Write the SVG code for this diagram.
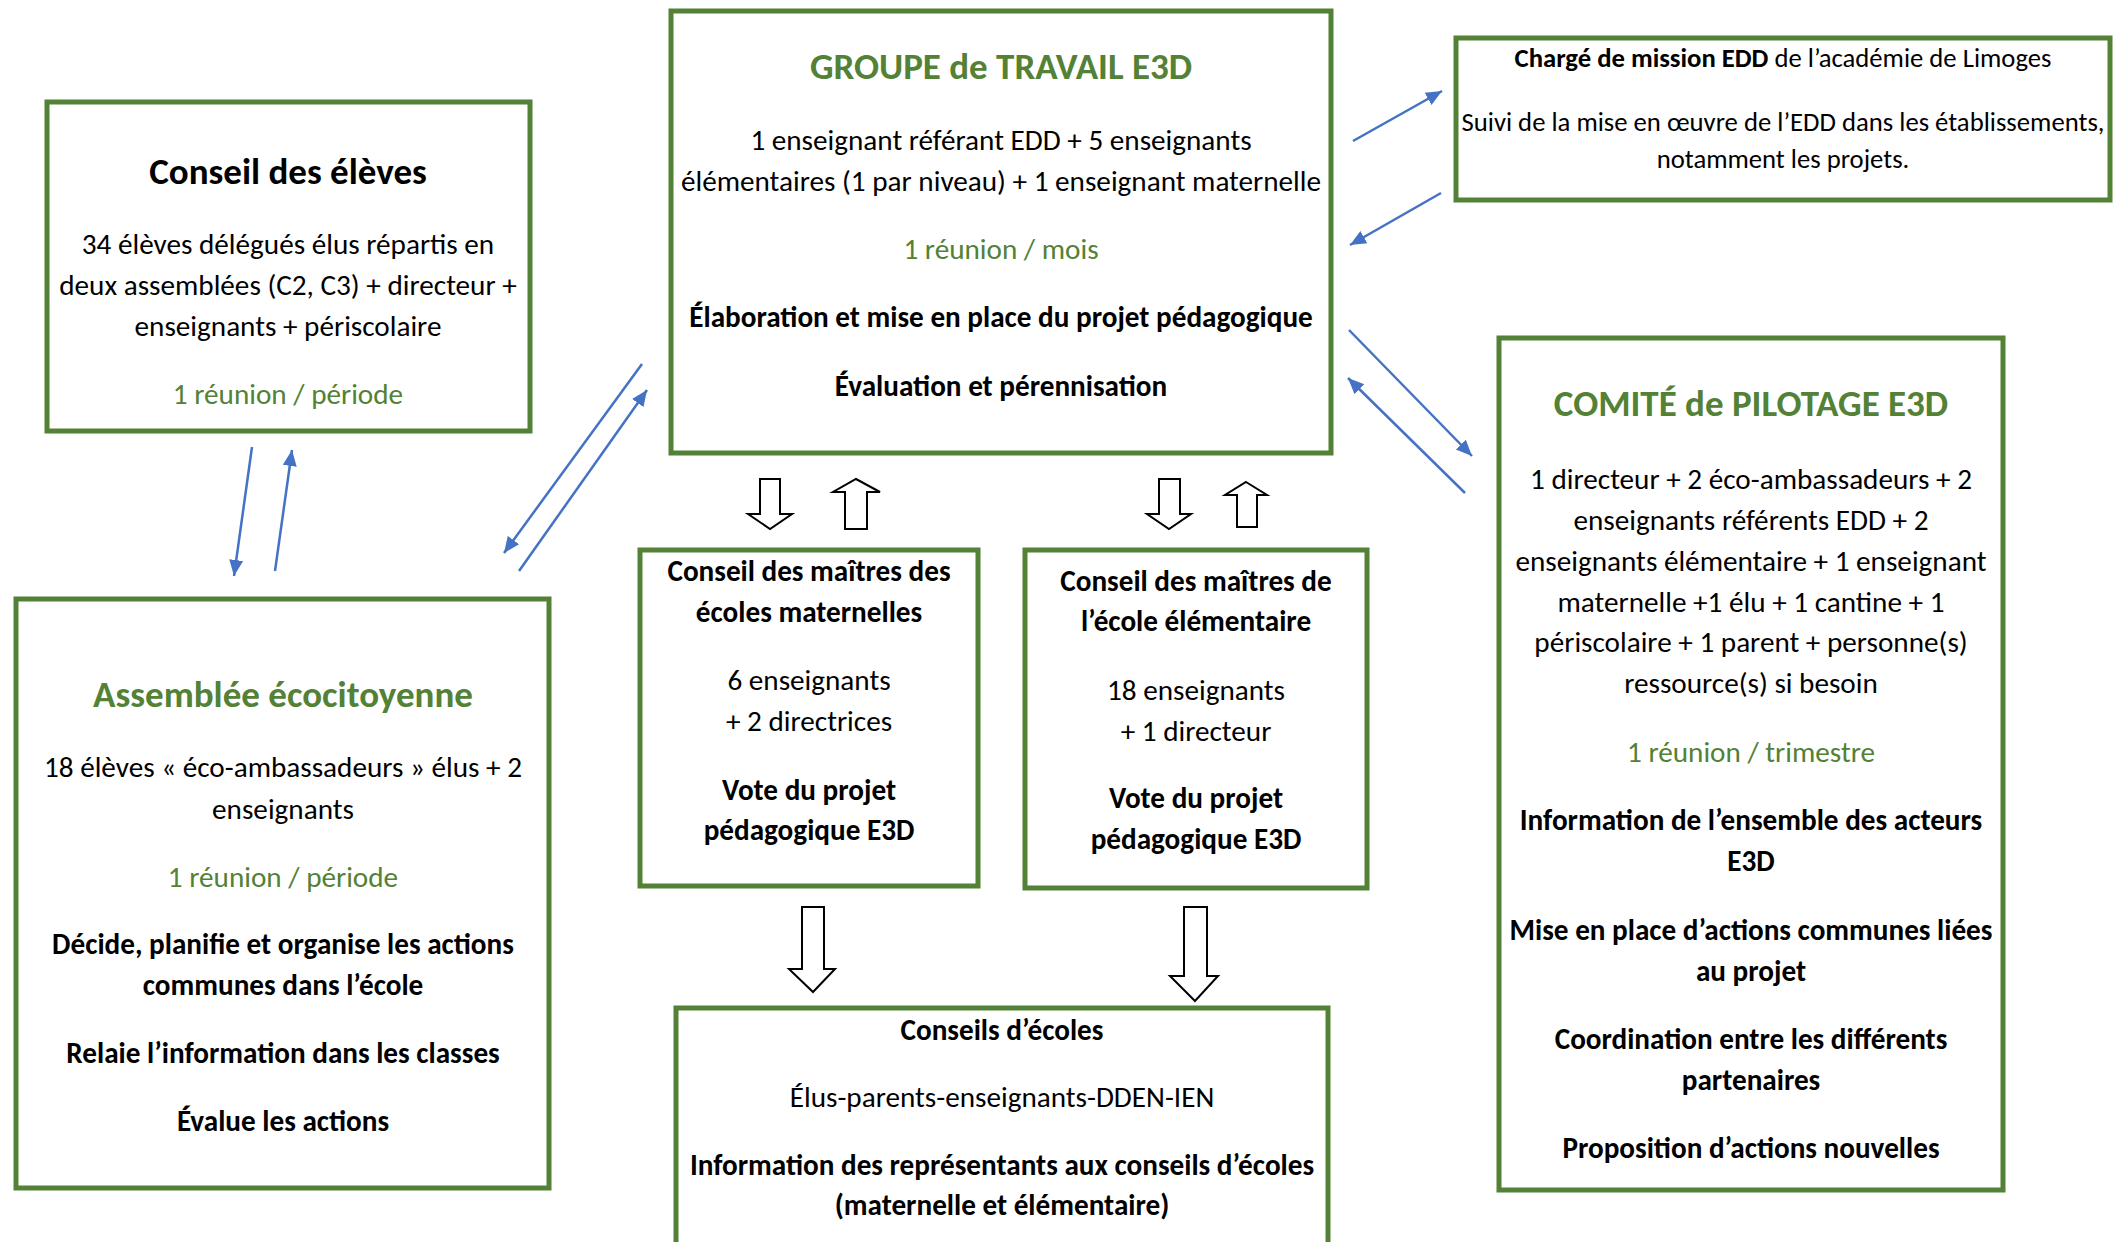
<svg xmlns="http://www.w3.org/2000/svg" width="2119" height="1242" viewBox="0 0 2119 1242">
<defs>
<style>
text{font-family:Carlito,Lato,"Liberation Sans",sans-serif;text-anchor:middle;fill:#000}
.box{fill:#fff;stroke:#538135;stroke-width:5}
.t{font-size:37px;font-weight:bold}
.tg{font-size:37px;font-weight:bold;fill:#538135}
.b{font-size:29.2px}
.bb{font-size:29.2px;font-weight:bold}
.g{font-size:29.2px;fill:#538135}
.s{font-size:26.7px}
.blk{fill:#fff;stroke:#000;stroke-width:2;stroke-linejoin:miter}
.con{stroke:#4472C4;stroke-width:2.5;fill:none;marker-end:url(#ah)}
</style>
<marker id="ah" markerUnits="userSpaceOnUse" markerWidth="18" markerHeight="16" refX="16" refY="7" orient="auto" viewBox="0 0 18 14">
<path d="M0,0 L16,7 L0,14 z" fill="#4472C4"/>
</marker>
</defs>
<rect width="2119" height="1242" fill="#fff"/>

<g id="conseil-eleves">
<rect class="box" x="47" y="102" width="483" height="329"/>
<text class="t" x="288" y="184">Conseil des élèves</text>
<text class="b" x="288" y="254">34 élèves délégués élus répartis en</text>
<text class="b" x="288" y="295">deux assemblées (C2, C3) + directeur +</text>
<text class="b" x="288" y="336">enseignants + périscolaire</text>
<text class="g" x="288" y="404">1 réunion / période</text>
</g>

<g id="groupe-travail">
<rect class="box" x="671" y="11" width="660" height="442"/>
<text class="tg" x="1001" y="79">GROUPE de TRAVAIL E3D</text>
<text class="b" x="1001" y="150">1 enseignant référant EDD + 5 enseignants</text>
<text class="b" x="1001" y="191">élémentaires (1 par niveau) + 1 enseignant maternelle</text>
<text class="g" x="1001" y="259">1 réunion / mois</text>
<text class="bb" x="1001" y="327">Élaboration et mise en place du projet pédagogique</text>
<text class="bb" x="1001" y="396">Évaluation et pérennisation</text>
</g>

<g id="charge-mission">
<rect class="box" x="1456" y="38" width="654" height="162"/>
<text class="s" x="1783" y="67"><tspan font-weight="bold">Chargé de mission EDD</tspan> de l’académie de Limoges</text>
<text class="s" x="1783" y="131">Suivi de la mise en œuvre de l’EDD dans les établissements,</text>
<text class="s" x="1783" y="168">notamment les projets.</text>
</g>

<g id="comite-pilotage">
<rect class="box" x="1499" y="338" width="504" height="852"/>
<text class="tg" x="1751" y="416">COMITÉ de PILOTAGE E3D</text>
<text class="b" x="1751" y="489">1 directeur + 2 éco-ambassadeurs + 2</text>
<text class="b" x="1751" y="530">enseignants référents EDD + 2</text>
<text class="b" x="1751" y="571">enseignants élémentaire + 1 enseignant</text>
<text class="b" x="1751" y="612">maternelle +1 élu + 1 cantine + 1</text>
<text class="b" x="1751" y="652">périscolaire + 1 parent + personne(s)</text>
<text class="b" x="1751" y="693">ressource(s) si besoin</text>
<text class="g" x="1751" y="762">1 réunion / trimestre</text>
<text class="bb" x="1751" y="830">Information de l’ensemble des acteurs</text>
<text class="bb" x="1751" y="871">E3D</text>
<text class="bb" x="1751" y="940">Mise en place d’actions communes liées</text>
<text class="bb" x="1751" y="981">au projet</text>
<text class="bb" x="1751" y="1049">Coordination entre les différents</text>
<text class="bb" x="1751" y="1090">partenaires</text>
<text class="bb" x="1751" y="1158">Proposition d’actions nouvelles</text>
</g>

<g id="assemblee">
<rect class="box" x="16" y="599" width="533" height="589"/>
<text class="tg" x="283" y="707">Assemblée écocitoyenne</text>
<text class="b" x="283" y="777">18 élèves « éco-ambassadeurs » élus + 2</text>
<text class="b" x="283" y="819">enseignants</text>
<text class="g" x="283" y="887">1 réunion / période</text>
<text class="bb" x="283" y="954">Décide, planifie et organise les actions</text>
<text class="bb" x="283" y="995">communes dans l’école</text>
<text class="bb" x="283" y="1063">Relaie l’information dans les classes</text>
<text class="bb" x="283" y="1131">Évalue les actions</text>
</g>

<g id="maitres-maternelles">
<rect class="box" x="640" y="550" width="338" height="336"/>
<text class="bb" x="809" y="581">Conseil des maîtres des</text>
<text class="bb" x="809" y="622">écoles maternelles</text>
<text class="b" x="809" y="690">6 enseignants</text>
<text class="b" x="809" y="731">+ 2 directrices</text>
<text class="bb" x="809" y="800">Vote du projet</text>
<text class="bb" x="809" y="840">pédagogique E3D</text>
</g>

<g id="maitres-elementaire">
<rect class="box" x="1025" y="550" width="342" height="338"/>
<text class="bb" x="1196" y="591">Conseil des maîtres de</text>
<text class="bb" x="1196" y="631">l’école élémentaire</text>
<text class="b" x="1196" y="700">18 enseignants</text>
<text class="b" x="1196" y="741">+ 1 directeur</text>
<text class="bb" x="1196" y="808">Vote du projet</text>
<text class="bb" x="1196" y="849">pédagogique E3D</text>
</g>

<g id="conseils-ecoles">
<rect class="box" x="676" y="1008" width="652" height="250"/>
<text class="bb" x="1002" y="1040">Conseils d’écoles</text>
<text class="b" x="1002" y="1107">Élus-parents-enseignants-DDEN-IEN</text>
<text class="bb" x="1002" y="1175">Information des représentants aux conseils d’écoles</text>
<text class="bb" x="1002" y="1215">(maternelle et élémentaire)</text>
</g>

<g id="connectors">
<polygon class="blk" points="760,479 780,479 780,514 792,514 770,529 748,514 760,514"/>
<polygon class="blk" points="856,479 880,492 867,492 867,529 845,529 845,492 833,492"/>
<polygon class="blk" points="1159,479 1180,479 1180,514 1191,514 1169,529 1147,514 1159,514"/>
<polygon class="blk" points="1246,482 1267,495 1257,495 1257,527 1237,527 1237,495 1225,495"/>
<polygon class="blk" points="802,907 824,907 824,969 835,969 813,992 789,969 802,969"/>
<polygon class="blk" points="1184,907 1207,907 1207,976 1218,976 1195,1001 1170,976 1184,976"/>
<line class="con" x1="252" y1="447" x2="234" y2="576"/>
<line class="con" x1="275" y1="571" x2="292" y2="450"/>
<line class="con" x1="642" y1="364" x2="504" y2="553"/>
<line class="con" x1="519" y1="571" x2="647" y2="390"/>
<line class="con" x1="1353" y1="141" x2="1442" y2="91"/>
<line class="con" x1="1441" y1="193" x2="1350" y2="245"/>
<line class="con" x1="1349" y1="330" x2="1472" y2="456"/>
<line class="con" x1="1465" y1="493" x2="1348" y2="378"/>
</g>
</svg>
